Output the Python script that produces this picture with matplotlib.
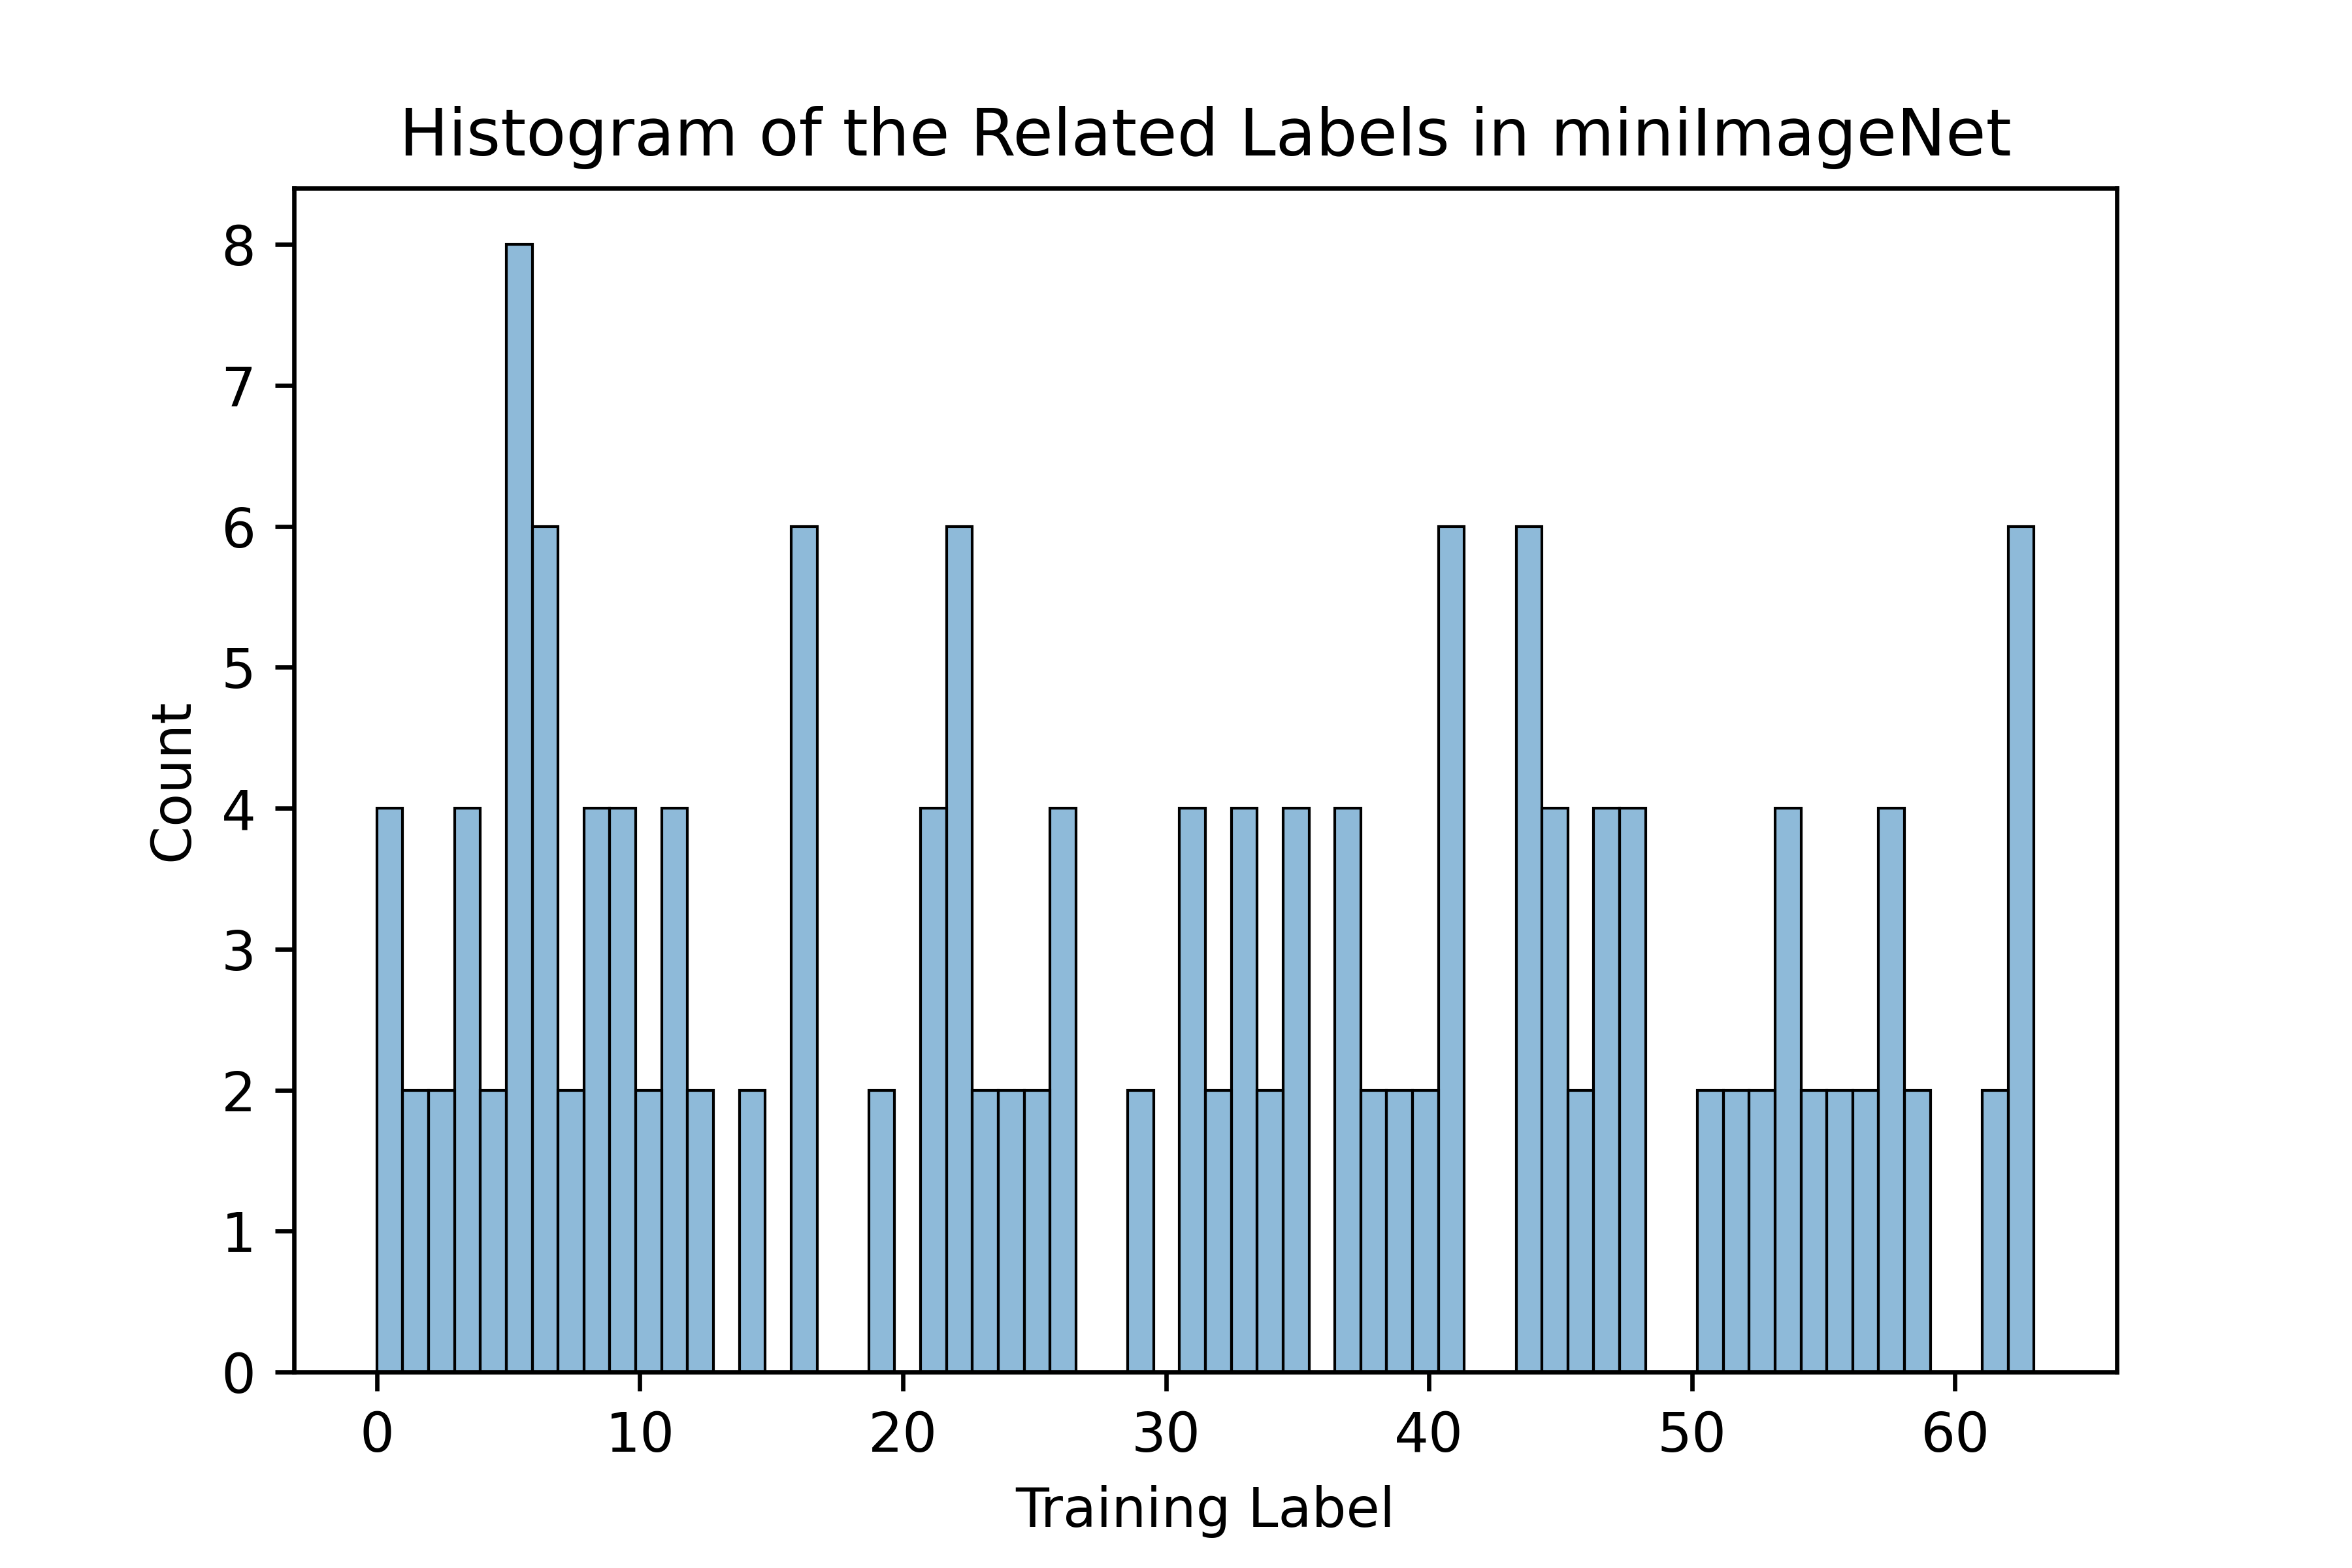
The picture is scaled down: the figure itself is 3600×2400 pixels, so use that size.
import numpy as np
import matplotlib
matplotlib.use("Agg")
import matplotlib.pyplot as plt
import seaborn as sns

# counts per training label (0..63)
labels = list(range(64))
counts = [4, 2, 2, 4, 2, 8, 6, 2, 4, 4,
          2, 4, 2, 0, 2, 0, 6, 0, 0, 2,
          0, 4, 6, 2, 2, 2, 4, 0, 0, 2,
          0, 4, 2, 4, 2, 4, 0, 4, 2, 2,
          2, 6, 0, 0, 6, 4, 2, 4, 4, 0,
          0, 2, 2, 2, 4, 2, 2, 2, 4, 2,
          0, 0, 2, 6]

fig, ax = plt.subplots(figsize=(6, 4))
fig.subplots_adjust(bottom=0.125, top=0.88)
sns.histplot(x=labels, weights=counts, bins=64, binrange=(0, 63),
             alpha=0.5, edgecolor="black", linewidth=0.5, ax=ax)
ax.set_xlabel("Training Label")
ax.set_ylabel("Count")
ax.set_title("Histogram of the Related Labels in miniImageNet")
plt.savefig("out.png", dpi=600)
